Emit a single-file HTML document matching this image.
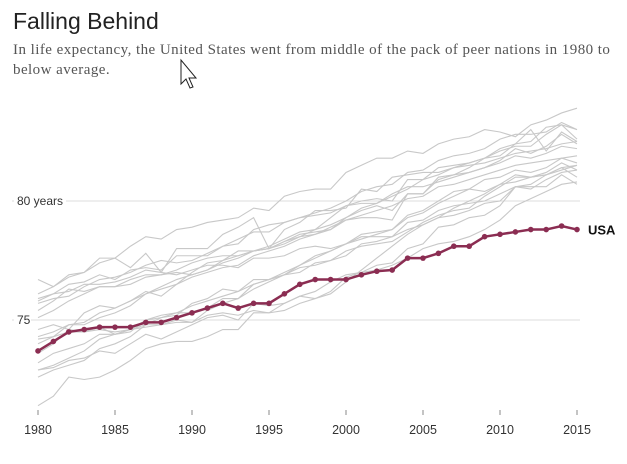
<!DOCTYPE html>
<html><head><meta charset="utf-8"><style>
body{margin:0;background:#fff;width:627px;height:464px;overflow:hidden;position:relative;font-family:"Liberation Sans",sans-serif}
#title{position:absolute;left:13px;top:8px;font-size:23px;color:#222;margin:0;font-weight:normal}
#sub{position:absolute;left:13px;top:40px;width:608px;font-family:"Liberation Serif",serif;font-size:15px;letter-spacing:0.45px;line-height:20px;color:#555}
svg{position:absolute;left:0;top:0}
</style></head><body>
<h1 id="title">Falling Behind</h1>
<div id="sub">In life expectancy, the United States went from middle of the pack of peer nations in 1980 to below average.</div>
<svg id="chart" width="627" height="464"></svg>
<script>
const years=[];for(let y=1980;y<=2015;y++)years.push(y);
const xTicks=[1980,1985,1990,1995,2000,2005,2010,2015];
const yTicks=[75,80];
const usa=[73.7,74.1,74.5,74.6,74.7,74.7,74.7,74.9,74.9,75.1,75.3,75.5,75.7,75.5,75.7,75.7,76.1,76.5,76.7,76.7,76.7,76.9,77.05,77.1,77.6,77.6,77.8,78.1,78.1,78.5,78.6,78.7,78.8,78.8,78.95,78.8];
const japan=[76.1,76.4,76.9,77.0,77.4,77.6,78.1,78.5,78.4,78.8,78.9,79.1,79.2,79.3,79.7,79.6,80.2,80.4,80.5,80.5,81.2,81.5,81.8,81.8,82.1,82.0,82.4,82.6,82.7,83.0,82.9,82.7,83.2,83.4,83.7,83.9];
const iceland=[76.7,76.4,76.8,77.0,77.6,77.6,77.2,77.8,77.0,78.0,78.0,78.0,78.6,78.9,79.3,78.0,78.8,79.1,79.6,79.6,79.7,80.5,80.4,81.0,81.1,81.2,81.2,81.4,81.6,81.8,81.9,82.4,83.0,82.1,82.9,82.5];
const sweden=[75.8,76.1,76.5,76.6,76.9,76.7,77.1,77.2,77.1,77.7,77.7,77.7,78.1,78.2,78.8,79.0,79.1,79.3,79.4,79.5,79.8,79.9,79.9,80.3,80.6,80.6,80.8,81.0,81.2,81.4,81.6,81.9,81.8,82.0,82.3,82.2];
const switzerland=[75.7,75.9,76.0,76.4,76.7,76.8,77.0,77.3,77.5,77.4,77.5,77.8,78.1,78.4,78.7,78.7,79.1,79.3,79.5,79.7,80.0,80.4,80.6,80.7,81.2,81.3,81.7,81.9,82.0,82.2,82.6,82.8,82.8,82.9,83.3,83.0];
const spain=[75.4,75.8,76.3,76.2,76.4,76.4,76.7,76.9,76.9,77.0,76.9,77.1,77.5,77.7,77.9,78.0,78.3,78.6,78.7,78.8,79.3,79.6,79.8,79.6,80.3,80.3,81.0,81.1,81.4,81.8,82.2,82.4,82.5,83.1,83.2,83.0];
const netherlands=[75.9,76.1,76.2,76.5,76.5,76.6,76.8,77.1,77.0,76.9,77.1,77.3,77.3,77.2,77.6,77.6,77.7,78.0,78.1,78.0,78.2,78.4,78.6,78.8,79.4,79.6,80.0,80.4,80.5,80.9,81.0,81.3,81.2,81.4,81.8,81.6];
const canada=[75.1,75.4,75.8,76.1,76.4,76.4,76.5,76.8,76.9,77.1,77.4,77.6,77.7,77.7,77.9,78.0,78.3,78.5,78.6,78.9,79.2,79.4,79.6,79.8,80.1,80.2,80.6,80.7,80.9,81.1,81.3,81.5,81.6,81.7,81.8,81.9];
const australia=[74.6,74.8,74.6,75.3,75.6,75.5,75.8,76.2,76.0,76.5,77.0,77.4,77.5,77.9,77.9,78.0,78.2,78.5,78.8,79.0,79.3,79.7,79.9,80.2,80.5,80.9,81.1,81.4,81.5,81.6,81.8,82.0,82.1,82.2,82.4,82.5];
const france=[74.3,74.5,74.8,74.8,75.1,75.3,75.6,76.1,76.3,76.5,76.8,77.0,77.2,77.3,77.7,77.9,78.1,78.4,78.6,78.8,79.2,79.3,79.3,79.2,80.3,80.3,80.9,81.1,81.2,81.4,81.7,82.2,82.0,82.3,82.8,82.4];
const italy=[74.0,74.3,74.8,74.9,75.3,75.5,75.8,76.1,76.4,76.7,76.9,77.1,77.4,77.6,77.9,78.1,78.4,78.7,78.8,79.3,79.8,80.0,80.1,80.0,80.9,80.9,81.4,81.5,81.6,81.8,82.1,82.3,82.3,82.8,83.2,82.6];
const uk=[73.2,73.6,73.8,74.0,74.4,74.4,74.6,75.0,75.1,75.2,75.7,75.9,76.3,76.2,76.7,76.7,76.9,77.2,77.3,77.5,77.9,78.1,78.2,78.3,78.7,79.1,79.4,79.6,79.7,80.2,80.6,81.0,81.0,81.1,81.4,81.0];
const germany=[72.9,73.1,73.4,73.7,74.2,74.4,74.5,75.0,75.2,75.3,75.3,75.5,75.9,75.9,76.3,76.6,76.9,77.3,77.6,77.9,78.2,78.5,78.5,78.5,79.1,79.2,79.6,79.8,79.9,80.0,80.3,80.6,80.6,80.6,81.1,80.7];
const austria=[72.6,72.9,73.1,73.3,73.8,74.0,74.3,74.8,75.1,75.3,75.6,75.8,76.0,76.2,76.5,76.7,77.0,77.3,77.7,77.9,78.2,78.6,78.7,78.8,79.3,79.5,79.9,80.2,80.5,80.4,80.7,81.1,81.0,81.2,81.6,81.3];
const finland=[73.6,74.0,74.6,74.5,74.7,74.4,74.6,74.7,74.8,75.0,74.9,75.4,75.7,75.9,76.5,76.7,76.9,77.0,77.4,77.5,77.7,78.2,78.3,78.5,78.8,79.0,79.3,79.4,79.6,79.9,80.0,80.6,80.7,81.1,81.3,81.5];
const portugal=[71.4,71.8,72.6,72.5,72.6,72.9,73.3,73.8,74.0,74.1,74.1,74.3,74.6,74.6,75.3,75.3,75.4,75.7,75.9,76.2,76.8,77.0,77.3,77.4,78.0,78.2,78.9,79.0,79.3,79.4,79.8,80.6,80.5,80.9,81.2,81.3];
const ireland=[72.9,73.0,73.3,73.4,73.7,73.6,74.0,74.4,74.2,74.5,74.8,75.1,75.2,75.0,75.7,75.6,75.7,76.0,75.9,76.1,76.6,77.1,77.6,78.1,78.6,79.0,79.3,79.7,80.0,80.3,80.7,80.8,81.0,81.1,81.4,81.5];
const denmark=[74.2,74.3,74.5,74.5,74.6,74.5,74.6,74.8,74.8,74.9,74.9,75.2,75.3,75.2,75.4,75.3,75.7,76.0,76.2,76.6,76.9,77.0,77.1,77.3,77.6,78.0,78.2,78.3,78.5,78.8,79.2,79.8,80.1,80.4,80.7,80.8];
const peers=[japan,iceland,sweden,switzerland,spain,netherlands,canada,australia,france,italy,uk,germany,austria,finland,portugal,ireland,denmark];
const peerNames=["japan","iceland","sweden","switzerland","spain","netherlands","canada","australia","france","italy","uk","germany","austria","finland","portugal","ireland","denmark"];

const NS="http://www.w3.org/2000/svg",svg=document.getElementById('chart');
const x=y=>38+(y-1980)*(539/35);
const yS=v=>320-(v-75)*23.8;
function el(t,a,p){const e=document.createElementNS(NS,t);for(const k in a)e.setAttribute(k,a[k]);(p||svg).appendChild(e);return e;}

yTicks.forEach(t=>{
  const l=el('line',{x1:12,x2:580,y1:yS(t),y2:yS(t),stroke:'#ddd','stroke-width':1});
  
  
});
yTicks.forEach(t=>{const w=t===80?52:17;el('rect',{x:14,y:yS(t)-8,width:w,height:14,fill:'#fff'});});
yTicks.forEach(t=>{
  const tx=el('text',{x:17,y:yS(t)+4,'font-size':12,fill:'#333'});
  tx.textContent=t===80?'80  years':String(t);
  
  
});

xTicks.forEach(t=>{
  const l=el('line',{x1:x(t),x2:x(t),y1:410,y2:415,stroke:'#888'});
  
  
  const tx=el('text',{x:x(t),y:434,'font-size':12.5,fill:'#333','text-anchor':'middle'});
  tx.textContent=t;
  
  
});

peers.forEach((s,i)=>{
  const p=el('polyline',{points:s.map((v,j)=>x(years[j])+','+yS(v)).join(' '),fill:'none',stroke:'#c8c8c8','stroke-width':1.1});
  
  
});
const u=el('polyline',{points:usa.map((v,j)=>x(years[j])+','+yS(v)).join(' '),fill:'none',stroke:'#8b2d52','stroke-width':2.5});


usa.forEach((v,j)=>{
  const c=el('circle',{cx:x(years[j]),cy:yS(v),r:2.8,fill:'#8b2d52'});
  
  
});
const lb=el('text',{x:588,y:yS(usa[usa.length-1])+5,'font-size':13,'font-weight':'bold',fill:'#111'});
lb.textContent='USA';



const cur=el('path',{d:'M181 60 L181 84 L186 79 L190 88 L193 87 L189 78 L196 78 Z',fill:'#fff',stroke:'#222','stroke-width':1});


</script>
</body></html>
